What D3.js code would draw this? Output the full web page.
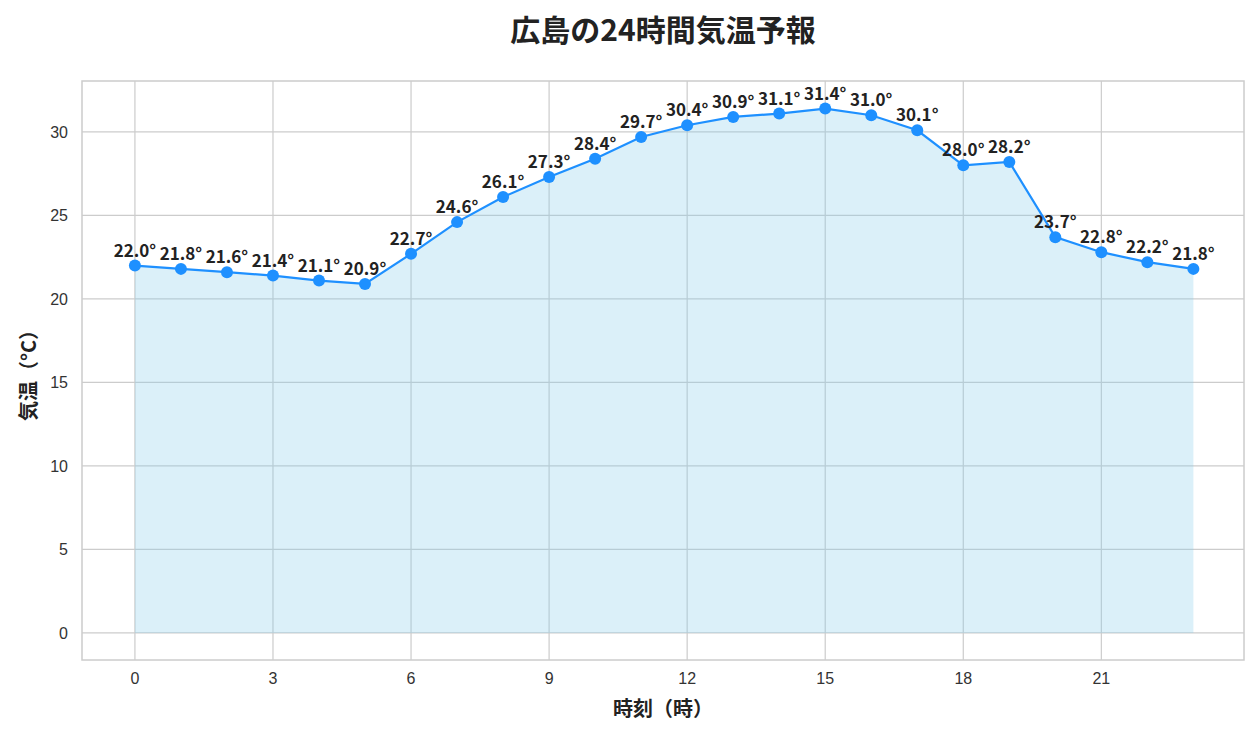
<!DOCTYPE html>
<html><head><meta charset="utf-8">
<script src="https://cdn.jsdelivr.net/npm/d3@7"></script>
<style>body{margin:0;background:#fff}</style>
</head><body>
<svg id="chart" width="1259" height="737"></svg>
<script>
const hours = d3.range(24);
const temps = [22.0,21.8,21.6,21.4,21.1,20.9,22.7,24.6,26.1,27.3,28.4,29.7,30.4,30.9,31.1,31.4,31.0,30.1,28.0,28.2,23.7,22.8,22.2,21.8];
const xTicks = [0,3,6,9,12,15,18,21];
const yTicks = [0,5,10,15,20,25,30];

const jp = "'Noto Sans CJK JP', sans-serif";
const margin = {top: 81, right: 15, bottom: 77, left: 82};
const width = 1259 - margin.left - margin.right;
const height = 737 - margin.top - margin.bottom;

const svg = d3.select("#chart");
const g = svg.append("g").attr("transform", `translate(${margin.left},${margin.top})`);

const x = d3.scaleLinear().domain([-1.15, 24.1]).range([0, width]);
const y = d3.scaleLinear().domain([-1.62, 33.05]).range([height, 0]);

// grid
g.selectAll("line.gx").data(xTicks).join("line")
  .attr("x1", d => x(d)).attr("x2", d => x(d)).attr("y1", 0).attr("y2", height)
  .attr("stroke", "#cccccc").attr("stroke-width", 1.2);
g.selectAll("line.gy").data(yTicks).join("line")
  .attr("y1", d => y(d)).attr("y2", d => y(d)).attr("x1", 0).attr("x2", width)
  .attr("stroke", "#cccccc").attr("stroke-width", 1.2);

// area
g.append("path").datum(temps)
  .attr("d", d3.area().x((d, i) => x(hours[i])).y0(y(0)).y1(d => y(d)))
  .attr("fill", "#87ceeb").attr("fill-opacity", 0.3);

g.append("path").datum(temps)
  .attr("d", d3.line().x((d, i) => x(hours[i])).y(d => y(d)))
  .attr("fill", "none").attr("stroke", "#1e90ff").attr("stroke-width", 2.2);

g.selectAll("circle").data(temps).join("circle")
  .attr("cx", (d, i) => x(hours[i])).attr("cy", d => y(d)).attr("r", 6)
  .attr("fill", "#1e90ff");

g.selectAll("text.lbl").data(temps).join("text")
  .attr("x", (d, i) => x(hours[i])).attr("y", d => y(d) - 9)
  .attr("text-anchor", "middle").attr("font-family", jp).attr("font-weight", "bold")
  .attr("font-size", 17).attr("fill", "#222")
  .text(d => d.toFixed(1) + "°");

// frame
g.append("rect").attr("width", width).attr("height", height)
  .attr("fill", "none").attr("stroke", "#cccccc").attr("stroke-width", 1.5);

// ticks
g.selectAll("text.xt").data(xTicks).join("text")
  .attr("x", d => x(d)).attr("y", height + 24).attr("text-anchor", "middle")
  .attr("font-family", "'Liberation Sans', Arial, sans-serif").attr("font-size", 16).attr("fill", "#333")
  .text(d => d);
g.selectAll("text.yt").data(yTicks).join("text")
  .attr("x", -14).attr("y", d => y(d) + 6).attr("text-anchor", "end")
  .attr("font-family", "'Liberation Sans', Arial, sans-serif").attr("font-size", 16).attr("fill", "#333")
  .text(d => d);

svg.append("text").attr("x", 663).attr("y", 41).attr("text-anchor", "middle")
  .attr("font-family", jp).attr("font-weight", "bold").attr("font-size", 30).attr("fill", "#222")
  .text("広島の24時間気温予報");
svg.append("text").attr("x", margin.left + width / 2).attr("y", 716).attr("text-anchor", "middle")
  .attr("font-family", jp).attr("font-weight", "bold").attr("font-size", 20).attr("fill", "#222")
  .text("時刻（時）");
svg.append("text").attr("transform", `translate(36,${margin.top + height / 2}) rotate(-90)`)
  .attr("text-anchor", "middle")
  .attr("font-family", jp).attr("font-weight", "bold").attr("font-size", 20).attr("fill", "#222")
  .text("気温（°C）");
</script>
</body></html>
